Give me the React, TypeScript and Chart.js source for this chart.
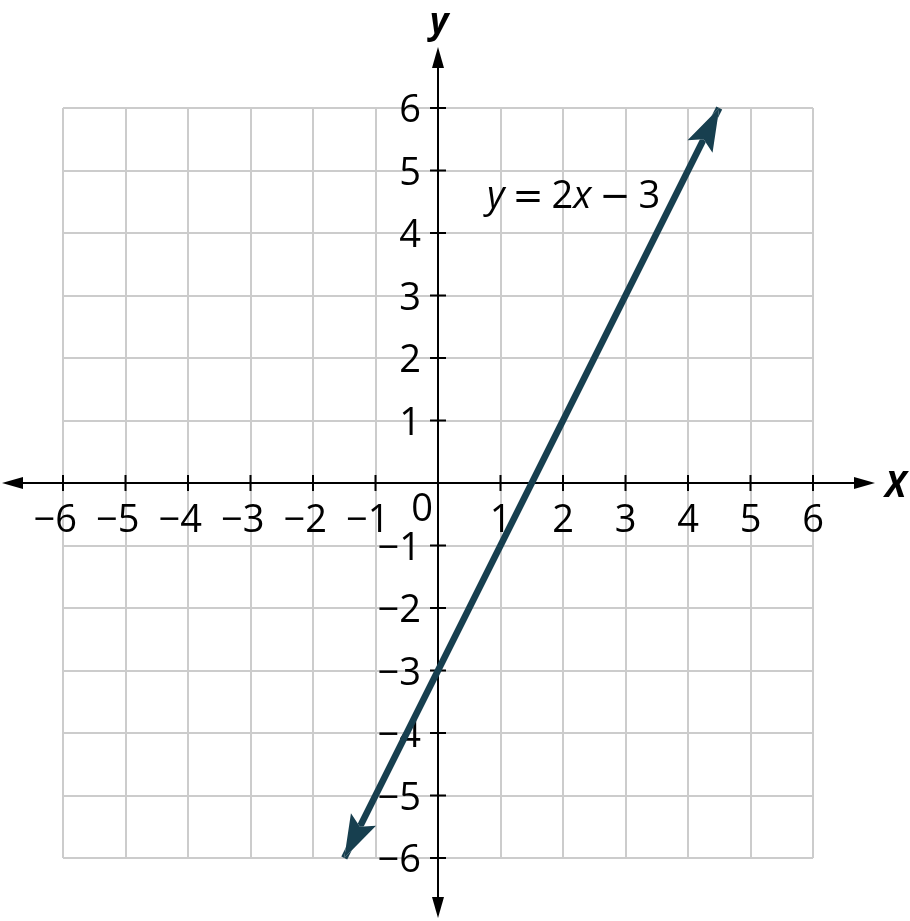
import React, { useEffect, useRef } from "react";
import { Chart, registerables } from "chart.js";

Chart.register(...registerables);

// ---- data ----
const lineX = [-1.5, 4.5];
const lineY = [-6, 6];
const tickValues = [-6, -5, -4, -3, -2, -1, 1, 2, 3, 4, 5, 6];
const xTickLabels = ["−6", "−5", "−4", "−3", "−2", "−1", "1", "2", "3", "4", "5", "6"];
const yTickLabels = ["−6", "−5", "−4", "−3", "−2", "−1", "1", "2", "3", "4", "5", "6"];
const originLabel = "0";
const equationParts = [
  { text: "y", kind: "italic" },
  { text: "=", kind: "symbol" },
  { text: "2", kind: "normal" },
  { text: "x", kind: "italic" },
  { text: "−", kind: "symbol" },
  { text: "3", kind: "normal" },
];
const xAxisTitle = "X";
const yAxisTitle = "y";

const LINE_COLOR = "#173f4f";
const GRID_COLOR = "#cccccc";
const FONT = "'Open Sans', 'Noto Sans', sans-serif";
const SYMBOL_FONT = "'DejaVu Sans', sans-serif";

function arrowPoints(tipX: number, tipY: number, fromX: number, fromY: number, L: number, W: number, N: number) {
  const dx = tipX - fromX;
  const dy = tipY - fromY;
  const len = Math.hypot(dx, dy) || 1;
  const ux = dx / len;
  const uy = dy / len;
  const nx = -uy;
  const ny = ux;
  return [
    [tipX, tipY],
    [tipX - L * ux + W * nx, tipY - L * uy + W * ny],
    [tipX - N * ux, tipY - N * uy],
    [tipX - L * ux - W * nx, tipY - L * uy - W * ny],
  ];
}

function tracePoly(ctx: CanvasRenderingContext2D, pts: number[][]) {
  ctx.moveTo(pts[0][0], pts[0][1]);
  for (let i = 1; i < pts.length; i++) ctx.lineTo(pts[i][0], pts[i][1]);
  ctx.closePath();
}

const HEAD_L = 43, HEAD_W = 14, HEAD_N = 35;

const axesPlugin = {
  id: "axesPlugin",
  beforeDatasetsDraw(chart: any) {
    const ctx: CanvasRenderingContext2D = chart.ctx;
    const xs = chart.scales.x;
    const ys = chart.scales.y;
    const x0 = xs.getPixelForValue(0);
    const y0 = ys.getPixelForValue(0);
    const left = xs.getPixelForValue(-6) - 61;
    const right = xs.getPixelForValue(6) + 62;
    const top = ys.getPixelForValue(6) - 61;
    const bottom = ys.getPixelForValue(-6) + 60;

    ctx.save();
    ctx.strokeStyle = "#000";
    ctx.fillStyle = "#000";
    ctx.lineWidth = 2;
    // x axis
    ctx.beginPath();
    ctx.moveTo(left + 15, y0);
    ctx.lineTo(right - 15, y0);
    ctx.stroke();
    // y axis
    ctx.beginPath();
    ctx.moveTo(x0, top + 15);
    ctx.lineTo(x0, bottom - 15);
    ctx.stroke();
    // arrowheads
    const AL = 21, AW = 6;
    ctx.beginPath();
    tracePoly(ctx, [[left, y0], [left + AL, y0 - AW], [left + AL, y0 + AW]]);
    ctx.fill();
    ctx.beginPath();
    tracePoly(ctx, [[right, y0], [right - AL, y0 - AW], [right - AL, y0 + AW]]);
    ctx.fill();
    ctx.beginPath();
    tracePoly(ctx, [[x0, top], [x0 - AW, top + AL], [x0 + AW, top + AL]]);
    ctx.fill();
    ctx.beginPath();
    tracePoly(ctx, [[x0, bottom], [x0 - AW, bottom - AL], [x0 + AW, bottom - AL]]);
    ctx.fill();

    // tick marks
    ctx.lineWidth = 2;
    ctx.beginPath();
    tickValues.forEach((v) => {
      const px = xs.getPixelForValue(v);
      ctx.moveTo(px, y0 - 8);
      ctx.lineTo(px, y0 + 8);
      const py = ys.getPixelForValue(v);
      ctx.moveTo(x0 - 8, py);
      ctx.lineTo(x0 + 8, py);
    });
    ctx.stroke();

    // tick labels
    ctx.font = `38px ${FONT}`;
    ctx.fillStyle = "#000";
    ctx.textBaseline = "alphabetic";
    tickValues.forEach((v, i) => {
      const px = xs.getPixelForValue(v);
      if (v < 0) {
        ctx.textAlign = "right";
        ctx.fillText(xTickLabels[i], px + 14, y0 + 49);
      } else {
        ctx.textAlign = "center";
        ctx.fillText(xTickLabels[i], px, y0 + 49);
      }
      const py = ys.getPixelForValue(v);
      ctx.textAlign = "right";
      ctx.fillText(yTickLabels[i], x0 - 17, py + 14);
    });
    ctx.textAlign = "center";
    ctx.fillText(originLabel, x0 - 16, y0 + 38);

    // equation label
    let ex = xs.getPixelForValue(0.785);
    const ey = ys.getPixelForValue(4.4);
    ctx.textAlign = "left";
    equationParts.forEach((p) => {
      if (p.kind === "symbol") ctx.font = `37px ${SYMBOL_FONT}`;
      else ctx.font = `${p.kind === "italic" ? "italic " : ""}38px ${FONT}`;
      if (p.kind === "symbol") ex += 8;
      ctx.fillText(p.text, ex, ey);
      ex += ctx.measureText(p.text).width;
      if (p.kind === "symbol") ex += 8;
    });

    // axis titles
    ctx.font = `italic bold 36px ${FONT}`;
    ctx.textAlign = "center";
    ctx.fillText(yAxisTitle, x0 + 1, top - 14);
    ctx.font = `italic bold 35px ${FONT}`;
    ctx.textAlign = "left";
    ctx.fillText(xAxisTitle, right + 10, y0 + 14);
    ctx.restore();

    // clip out arrowhead areas for the line
    const meta = chart.getDatasetMeta(0);
    const pts = meta.data;
    ctx.save();
    ctx.beginPath();
    ctx.rect(0, 0, chart.width, chart.height);
    if (pts.length >= 2) {
      const a = pts[pts.length - 1], b = pts[pts.length - 2];
      tracePoly(ctx, arrowPoints(a.x, a.y, b.x, b.y, HEAD_L, HEAD_W, HEAD_N));
      const c = pts[0], d = pts[1];
      tracePoly(ctx, arrowPoints(c.x, c.y, d.x, d.y, HEAD_L, HEAD_W, HEAD_N));
    }
    ctx.clip("evenodd");
  },
  afterDatasetsDraw(chart: any) {
    const ctx: CanvasRenderingContext2D = chart.ctx;
    ctx.restore();
    const meta = chart.getDatasetMeta(0);
    const pts = meta.data;
    if (pts.length < 2) return;
    ctx.save();
    ctx.fillStyle = LINE_COLOR;
    const a = pts[pts.length - 1], b = pts[pts.length - 2];
    ctx.beginPath();
    tracePoly(ctx, arrowPoints(a.x, a.y, b.x, b.y, HEAD_L, HEAD_W, HEAD_N));
    ctx.fill();
    const c = pts[0], d = pts[1];
    ctx.beginPath();
    tracePoly(ctx, arrowPoints(c.x, c.y, d.x, d.y, HEAD_L, HEAD_W, HEAD_N));
    ctx.fill();
    ctx.restore();
  },
};

export default function App() {
  const canvasRef = useRef<HTMLCanvasElement | null>(null);

  useEffect(() => {
    const canvas = canvasRef.current;
    if (!canvas) return;
    const points = lineX.map((x, i) => ({ x, y: lineY[i] }));
    const chart = new Chart(canvas, {
      type: "scatter",
      data: {
        datasets: [
          {
            data: points,
            showLine: true,
            borderColor: LINE_COLOR,
            backgroundColor: LINE_COLOR,
            borderWidth: 6.5,
            pointRadius: 0,
            pointHoverRadius: 0,
            clip: false as any,
          },
        ],
      },
      options: {
        responsive: false,
        animation: false,
        events: [],
        layout: { padding: { left: 63, right: 97, top: 108, bottom: 63 } },
        plugins: { legend: { display: false }, tooltip: { enabled: false } },
        scales: {
          x: {
            type: "linear",
            min: -6,
            max: 6,
            ticks: { display: false, stepSize: 1 },
            grid: { color: GRID_COLOR, lineWidth: 2, drawTicks: false },
            border: { display: false },
          },
          y: {
            type: "linear",
            min: -6,
            max: 6,
            ticks: { display: false, stepSize: 1 },
            grid: { color: GRID_COLOR, lineWidth: 2, drawTicks: false },
            border: { display: false },
          },
        },
      },
      plugins: [axesPlugin],
    });
    return () => chart.destroy();
  }, []);

  return (
    <canvas
      ref={canvasRef}
      width={910}
      height={921}
      style={{ position: "fixed", left: 0, top: 0, width: 910, height: 921, background: "#fff" }}
    />
  );
}
